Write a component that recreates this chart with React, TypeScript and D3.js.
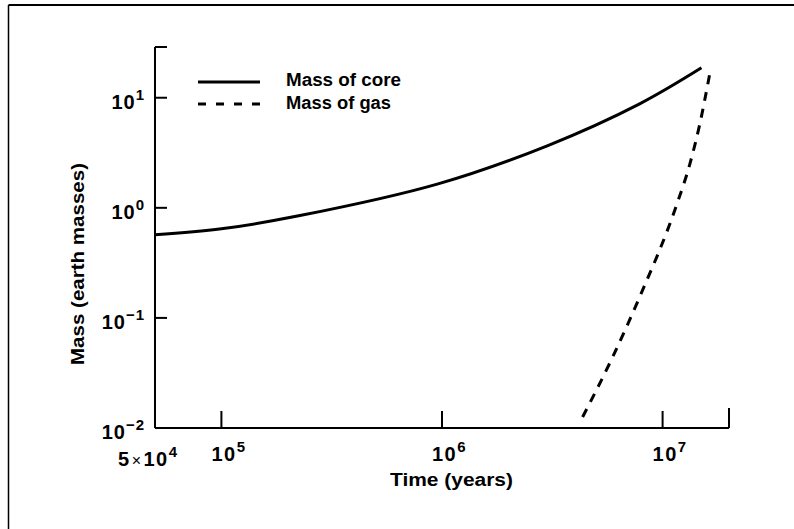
import * as d3 from "d3";

// core mass vs time (years -> earth masses)
const coreTime = [5e4, 1e5, 2.27e5, 9.6e5, 3e6, 7.87e6, 1.5e7];
const coreMass = [0.57, 0.645, 0.85, 1.65, 3.66, 8.8, 18.7];

// gas mass vs time
const gasTime = [4.34e6, 5.94e6, 7.87e6, 1.157e7, 1.326e7, 1.472e7, 1.633e7];
const gasMass = [0.0126, 0.0442, 0.155, 1.06, 2.46, 5.68, 16.2];

const xTicks = [1e5, 1e6, 1e7];
const xTickExp = ["5", "6", "7"];
const yTicks = [10, 1, 0.1, 0.01];
const yTickExp = ["1", "0", "\u22121", "\u22122"];

const W = 794;
const H = 529;
const font = "'Liberation Sans', Arial, Helvetica, sans-serif";

const x = d3.scaleLog().domain([5e4, 2e7]).range([155, 729]);
const y = d3.scaleLog().domain([0.01, 28.9]).range([428, 47]);

const coreLine = d3
  .line<[number, number]>()
  .x((d) => x(d[0]))
  .y((d) => y(d[1]))
  .curve(d3.curveCatmullRom.alpha(0.5));

const gasLine = d3
  .line<[number, number]>()
  .x((d) => x(d[0]))
  .y((d) => y(d[1]))
  .curve(d3.curveMonotoneX);

const corePts = coreTime.map((t, i) => [t, coreMass[i]] as [number, number]);
const gasPts = gasTime.map((t, i) => [t, gasMass[i]] as [number, number]);

export default function App() {
  const [x0, x1] = x.range();
  const [y0, y1] = y.range();
  return (
    <div style={{ position: "fixed", left: 0, top: 0 }}>
      <svg width={W} height={H} style={{ display: "block", background: "#fff" }}>
        {/* frame */}
        <line x1={8.5} y1={5} x2={W} y2={5} stroke="#000" strokeWidth={1.8} />
        <line x1={8.5} y1={5} x2={8.5} y2={H} stroke="#000" strokeWidth={1.5} />

        {/* axes */}
        <line x1={x0} y1={y0} x2={x1} y2={y0} stroke="#000" strokeWidth={2} />
        <line x1={x0} y1={y0} x2={x0} y2={y1} stroke="#000" strokeWidth={2} />
        {/* end ticks */}
        <line x1={x1} y1={y0} x2={x1} y2={y0 - 20} stroke="#000" strokeWidth={2} />
        <line x1={x0} y1={y1} x2={x0 + 12} y2={y1} stroke="#000" strokeWidth={2} />

        {xTicks.map((t, i) => (
          <g key={"x" + i}>
            <line x1={x(t)} y1={y0} x2={x(t)} y2={y0 - 17} stroke="#000" strokeWidth={2} />
            <text
              x={x(t) - 10}
              y={461}
              fontFamily={font}
              fontWeight="bold"
              fontSize={20}
              letterSpacing={1.5}
            >
              10
              <tspan dy={-9} fontSize={15}>
                {xTickExp[i]}
              </tspan>
            </text>
          </g>
        ))}
        <text x={118} y={466} fontFamily={font} fontWeight="bold" fontSize={20} letterSpacing={1.5}>
          5
          <tspan fontWeight="normal" fontSize={16} dx={1}>
            {"\u00d7"}
          </tspan>
          <tspan dx={1}>10</tspan>
          <tspan dy={-9} fontSize={15}>
            4
          </tspan>
        </text>

        {yTicks.map((t, i) => (
          <g key={"y" + i}>
            {i < yTicks.length - 1 && (
              <line x1={x0} y1={y(t)} x2={x0 + 12} y2={y(t)} stroke="#000" strokeWidth={2} />
            )}
            <text
              x={145}
              y={y(t) + 11}
              textAnchor="end"
              fontFamily={font}
              fontWeight="bold"
              fontSize={20}
              letterSpacing={1}
            >
              10
              <tspan dy={-9} fontSize={15}>
                {yTickExp[i]}
              </tspan>
            </text>
          </g>
        ))}

        {/* titles */}
        <text
          x={451.5}
          y={486}
          textAnchor="middle"
          fontFamily={font}
          fontWeight="bold"
          fontSize={18}
          textLength={123}
          lengthAdjust="spacingAndGlyphs"
        >
          Time (years)
        </text>
        <text
          transform="translate(84,264) rotate(-90)"
          textAnchor="middle"
          fontFamily={font}
          fontWeight="bold"
          fontSize={18}
          textLength={202}
          lengthAdjust="spacingAndGlyphs"
        >
          Mass (earth masses)
        </text>

        {/* curves */}
        <path d={coreLine(corePts) ?? ""} fill="none" stroke="#000" strokeWidth={3} />
        <path
          d={gasLine(gasPts) ?? ""}
          fill="none"
          stroke="#000"
          strokeWidth={3}
          strokeDasharray="9,8"
        />

        {/* legend */}
        <line x1={198} y1={82} x2={260} y2={82} stroke="#000" strokeWidth={3} />
        <line
          x1={198}
          y1={104}
          x2={262}
          y2={104}
          stroke="#000"
          strokeWidth={3}
          strokeDasharray="8,10"
        />
        <text
          x={286}
          y={86}
          fontFamily={font}
          fontWeight="bold"
          fontSize={18}
          textLength={115}
          lengthAdjust="spacingAndGlyphs"
        >
          Mass of core
        </text>
        <text
          x={286}
          y={109}
          fontFamily={font}
          fontWeight="bold"
          fontSize={18}
          textLength={105}
          lengthAdjust="spacingAndGlyphs"
        >
          Mass of gas
        </text>
      </svg>
    </div>
  );
}
